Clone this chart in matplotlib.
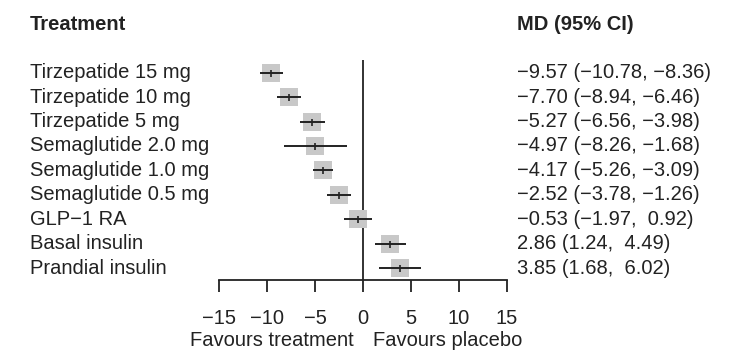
import matplotlib
matplotlib.use("Agg")
import matplotlib.pyplot as plt
import matplotlib.transforms as mtransforms

plt.rcParams['font.family'] = ['Liberation Sans', 'DejaVu Sans']

# data
treatments = ["Tirzepatide 15 mg", "Tirzepatide 10 mg", "Tirzepatide 5 mg",
              "Semaglutide 2.0 mg", "Semaglutide 1.0 mg", "Semaglutide 0.5 mg",
              "GLP\u22121 RA", "Basal insulin", "Prandial insulin"]
md = [-9.57, -7.70, -5.27, -4.97, -4.17, -2.52, -0.53, 2.86, 3.85]
lo = [-10.78, -8.94, -6.56, -8.26, -5.26, -3.78, -1.97, 1.24, 1.68]
hi = [-8.36, -6.46, -3.98, -1.68, -3.09, -1.26, 0.92, 4.49, 6.02]
xticks = [-15, -10, -5, 0, 5, 10, 15]


def fmt(v):
    return f"{v:.2f}".replace("-", "\u2212")


def fmt_ci(m, l, h):
    sep = ",  " if h >= 0 else ", "
    return f"{fmt(m)} ({fmt(l)}{sep}{fmt(h)})"


W, H = 751, 359
fig = plt.figure(figsize=(W / 100, H / 100), dpi=100)
ax = fig.add_axes([219 / W, (H - 280) / H, 288 / W, 220 / H])

ink = "#222222"
fs = 14.5
rows = list(range(len(treatments)))

# boxes, CI lines and point ticks
ax.scatter(md, rows, marker='s', s=(18.5 * 0.72) ** 2, color="#c8c8c8",
           linewidths=0, zorder=2)
ax.hlines(rows, lo, hi, color=ink, lw=1.4, zorder=3)
ax.scatter(md, rows, marker='|', s=(7 * 0.72) ** 2, color=ink,
           linewidths=1.2, zorder=4)
ax.axvline(0, color=ink, lw=1.3, zorder=1)

ax.set_xlim(-15, 15)
ax.set_ylim(len(treatments) - 1 + 0.49, -0.52)
for s in ["top", "right", "left"]:
    ax.spines[s].set_visible(False)
ax.spines["bottom"].set_linewidth(1.3)
ax.spines["bottom"].set_color(ink)
ax.set_yticks([])
ax.set_xticks(xticks)
ax.set_xticklabels([str(t).replace("-", "\u2212") for t in xticks])
ax.tick_params(axis='x', direction='out', length=8.6, width=1.3, color=ink,
               labelsize=fs, labelcolor=ink, pad=12)

# text columns
tr = mtransforms.blended_transform_factory(fig.transFigure, ax.transData)
for i, (name, m, l, h) in enumerate(zip(treatments, md, lo, hi)):
    ax.text(30 / W, i, name, transform=tr, ha='left', va='center',
            fontsize=fs, color=ink)
    ax.text(517 / W, i, fmt_ci(m, l, h), transform=tr, ha='left',
            va='center', fontsize=fs, color=ink)

fig.text(30 / W, 1 - 25 / H, "Treatment", ha='left', va='center',
         fontsize=fs, fontweight='bold', color=ink)
fig.text(517 / W, 1 - 25 / H, "MD (95% CI)", ha='left', va='center',
         fontsize=fs, fontweight='bold', color=ink)

tr2 = mtransforms.blended_transform_factory(ax.transData, ax.transAxes)
ax.text(-1.0, -0.275, "Favours treatment", transform=tr2,
        ha='right', va='center', fontsize=fs, color=ink)
ax.text(1.0, -0.275, "Favours placebo", transform=tr2,
        ha='left', va='center', fontsize=fs, color=ink)

fig.savefig("out.png", dpi=100)
